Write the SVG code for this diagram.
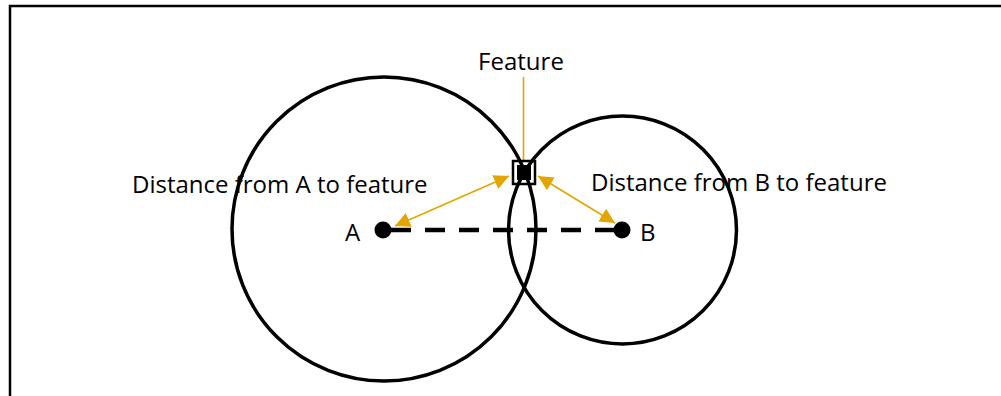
<svg xmlns="http://www.w3.org/2000/svg" width="1001" height="396" viewBox="0 0 1001 396">
<style>
  .lbl{font-family:"Open Sans","Liberation Sans",sans-serif;font-size:24px;fill:#000}
  .circ{fill:none;stroke:#000;stroke-width:3.5}
  .ptr{stroke:#E3A600;stroke-width:1.6;fill:none}
</style>
<defs>
  <marker id="ah" viewBox="0 0 10 10" refX="10" refY="5" markerWidth="15" markerHeight="15" markerUnits="userSpaceOnUse" orient="auto-start-reverse">
    <path d="M0,0 L10,5 L0,10 z" fill="#E3A600"/>
  </marker>
</defs>
<rect width="1001" height="396" fill="#fff"/>
<g id="frame">
  <path d="M10,396 V6 H1001" fill="none" stroke="#000" stroke-width="2.5"/>
</g>
<g id="circleA"><circle class="circ" cx="384" cy="229" r="152"/></g>
<g id="circleB"><circle class="circ" cx="622.5" cy="230" r="114"/></g>
<g id="connectors">
  <line x1="391" y1="230" x2="614" y2="230" stroke="#000" stroke-width="4.5" stroke-dasharray="20 14"/>
  <line class="ptr" x1="523.5" y1="77" x2="523.5" y2="160" stroke-width="2"/>
  <line class="ptr" x1="395" y1="226" x2="509" y2="176" marker-start="url(#ah)" marker-end="url(#ah)"/>
  <line class="ptr" x1="538" y1="176" x2="615" y2="223" marker-start="url(#ah)" marker-end="url(#ah)"/>
</g>
<g id="pointA"><circle cx="383" cy="230" r="8.5" fill="#000"/><text class="lbl" x="345" y="241">A</text></g>
<g id="pointB"><circle cx="622" cy="230" r="8.5" fill="#000"/><text class="lbl" x="640" y="241">B</text></g>
<g id="feature">
  <rect x="513" y="161" width="22" height="23" fill="none" stroke="#000" stroke-width="2.5"/>
  <rect x="517" y="165" width="14" height="15" fill="#000"/>
  <text class="lbl" x="521" y="70" text-anchor="middle">Feature</text>
</g>
<g id="labelA"><text class="lbl" x="132" y="193">Distance from A to feature</text></g>
<g id="labelB"><text class="lbl" x="591" y="191">Distance from B to feature</text></g>
</svg>
